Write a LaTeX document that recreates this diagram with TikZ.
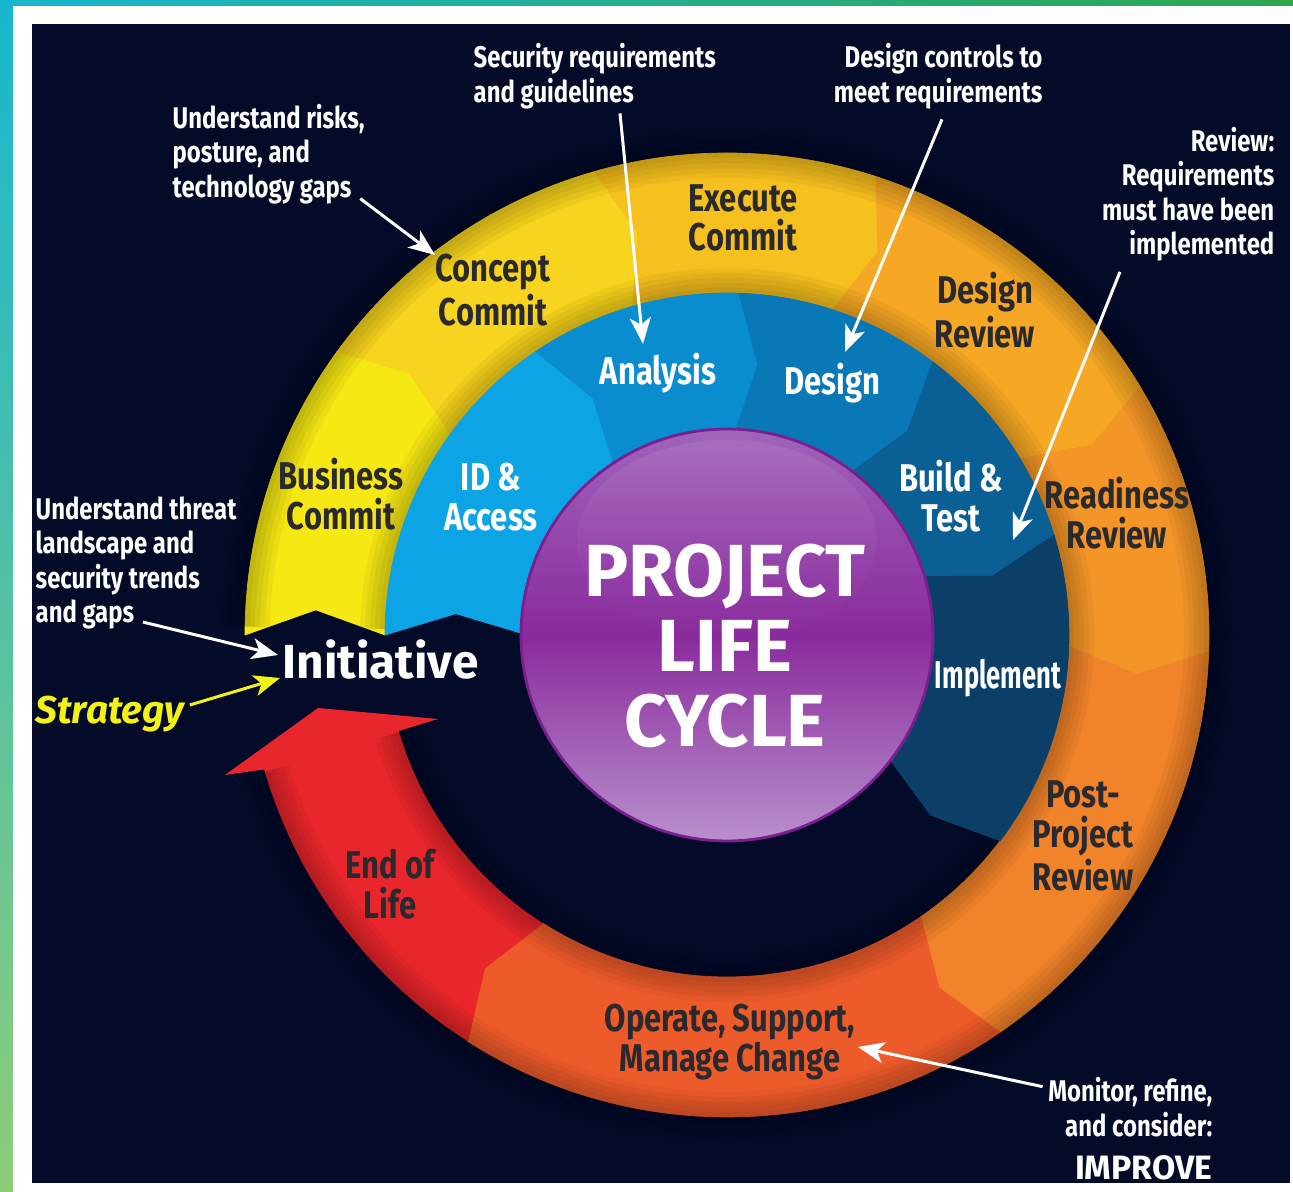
\documentclass[tikz,border=0pt]{standalone}
\usepackage{fontspec}
\setmainfont{Fira Sans}
\newfontfamily\narrowfont{Fira Sans}[FakeStretch=0.8]
\newfontfamily\slimfont{Fira Sans}[FakeStretch=0.66]
\usepackage{tikz}
\usetikzlibrary{arrows.meta,positioning}

% panel and frame
\definecolor{navy}{HTML}{030B29}
\definecolor{frameTeal}{HTML}{19B6CF}
\definecolor{frameGreen}{HTML}{8ECC7A}
\definecolor{barGreen}{HTML}{2EA64C}
% outer ring stages
\definecolor{bizYellow}{HTML}{F6E812}
\definecolor{conceptYellow}{HTML}{F7D41D}
\definecolor{execGold}{HTML}{F6C01F}
\definecolor{reviewOrange}{HTML}{F6A824}
\definecolor{readyOrange}{HTML}{F49627}
\definecolor{postOrange}{HTML}{F1832A}
\definecolor{operateOrange}{HTML}{EE5B2A}
\definecolor{endRed}{HTML}{E8262B}
% inner blue stages
\definecolor{blueA}{HTML}{0CA4E4}
\definecolor{blueB}{HTML}{0A8DCE}
\definecolor{blueC}{HTML}{0978B6}
\definecolor{blueD}{HTML}{0A5F94}
\definecolor{blueE}{HTML}{0B3F67}
% hub
\definecolor{hubTop}{HTML}{A064BA}
\definecolor{hubMid}{HTML}{8A2A9D}
\definecolor{hubLow}{HTML}{B890CC}
\definecolor{hubGloss}{HTML}{A871C0}
\definecolor{hubRim}{HTML}{7A1F8F}
\definecolor{stageText}{HTML}{2A2A2E}
\definecolor{strategyYellow}{HTML}{F3F216}

\begin{document}
\begin{tikzpicture}[x=0.01cm, y=-0.01cm,
  note/.style={text=white, inner sep=0pt, font=\narrowfont\bfseries\fontsize{8.5}{9.8}\selectfont},
  stage/.style={text=stageText, inner sep=0pt, align=center, font=\narrowfont\bfseries\fontsize{11}{11.3}\selectfont},
  substage/.style={stage, text=white},
  pointer/.style={draw=white, line width=0.85pt, -{Stealth[length=7.5pt, width=6pt, inset=2pt]}}]

% frame and dark panel
\fill[white] (0,0) rectangle (1293,1192);
\shade[top color=frameTeal, bottom color=frameGreen] (0,0) rectangle (13,1192);
\shade[left color=frameTeal, right color=barGreen] (0,0) rectangle (1293,6);
\fill[navy] (32,24) rectangle (1290,1183);

\begin{scope}[shift={(727,635)}, y=0.01cm]

% outer ring, one chevron per stage
\foreach \c/\a/\b in {bizYellow/180/144, conceptYellow/144/106, execGold/106/72,
    reviewOrange/72/31, readyOrange/31/-2, postOrange/-2/-55.5, operateOrange/-55.5/-122.5}
{
  \fill[\c, draw=\c, line width=0.2pt] (\a:482) arc[start angle=\a, end angle=\b, radius=482]
    -- (\b-3.5:412) -- (\b:342) arc[start angle=\b, end angle=\a, radius=342]
    -- (\a-3.5:412) -- cycle;
}

% end of life, turning back up into an arrow head
\fill[endRed] (-122.5:482) arc[start angle=-122.5, end angle=-163.8, radius=482]
  -- (-502,-140) -- (-409,-73) -- (-289,-84)
  -- (-163.7:342) arc[start angle=-163.7, end angle=-122.5, radius=342]
  -- (-126:412) -- cycle;

% soft shadow along both rims of the ring
\foreach \r in {482,342}
  \foreach \w in {1,2,3,4,5}
    \draw[black, opacity=.045, line width=\w mm] (179:\r) arc[start angle=179, end angle=-163.5, radius=\r];

% blue band
\foreach \c/\a/\b in {blueA/180/124, blueB/124/88, blueC/88/53, blueD/53/17, blueE/17/-37}
{
  \fill[\c, draw=\c, line width=0.2pt] (\a:342) arc[start angle=\a, end angle=\b, radius=342]
    -- (\b-4.5:272) -- (\b:200) arc[start angle=\b, end angle=\a, radius=200]
    -- (\a-4.5:272) -- cycle;
}

% hub
\shade[top color=hubTop, bottom color=hubLow, middle color=hubMid] (0,0) circle (206);
\shade[top color=hubGloss, bottom color=hubMid, opacity=.8] (0,95) ellipse [x radius=150, y radius=100];
\draw[hubRim, line width=0.8pt] (0,0) circle (206);

\end{scope}

% stage names on the ring
\node[stage] (business) at (341,494) {Business\\Commit};
\node[stage] (concept) at (493,290) {Concept\\Commit};
\node[stage] (execute) at (743,218) {Execute\\Commit};
\node[stage] (desReview) at (985,310) {Design\\Review};
\node[stage] (readiness) at (1117,513) {Readiness\\Review};
\node[stage] (postReview) at (1083,836) {Post-\\Project\\Review};
\node[stage] (operate) at (730,1042) {Operate, Support,\\Manage Change};
\node[stage] (endLife) at (390,884) {End of\\Life};

% stage names on the blue band
\node[substage] (idAccess) at (491,497) {ID \&\\Access};
\node[substage] (analysis) at (658,373) {Analysis};
\node[substage] (design) at (832,383) {Design};
\node[substage] (build) at (951,496) {Build \&\\Test};
\node[substage, font=\slimfont\bfseries\fontsize{11}{11.3}\selectfont] (implement) at (998,678) {Implement};

\node[text=white, align=center, inner sep=0pt, font=\bfseries\fontsize{21}{21.3}\selectfont] (hub) at (725,646) {PROJECT\\LIFE\\CYCLE};

% notes around the cycle
\node[note, align=left, anchor=west] (risks) at (172,154) {Understand risks,\\posture, and\\technology gaps};
\node[note, align=left, anchor=west] (secReq) at (473,76) {Security requirements\\and guidelines};
\node[note, align=right, anchor=east] (controls) at (1043,76) {Design controls to\\meet requirements};
\node[note, align=right, anchor=east] (reviewNote) at (1275,194) {Review:\\Requirements\\must have been\\implemented};
\node[note, align=left, anchor=west] (threat) at (35,563) {Understand threat\\landscape and\\security trends\\and gaps};
\node[note, align=right, anchor=east] (monitor) at (1213,1107) {Monitor, refine,\\and consider:};
\node[text=white, inner sep=0pt, font=\bfseries\fontsize{9.6}{10}\selectfont,
  below=5pt of monitor.south east, anchor=north east] (improve) {IMPROVE};

\node[text=white, inner sep=0pt, anchor=west, font=\bfseries\fontsize{13.6}{14}\selectfont] (initiative) at (282,660) {Initiative};
\node[text=strategyYellow, inner sep=0pt, anchor=west, font=\bfseries\itshape\fontsize{11}{12}\selectfont] (strategy) at (35,714) {Strategy};

% pointer tips
\coordinate (riskTip) at (435,255);
\coordinate (anaTip) at (643,344);
\coordinate (desTip) at (845,352);
\coordinate (buildTip) at (1013,540);
\coordinate (opTip) at (858,1047);

% pointers
\draw[pointer] ([shift={(-5,-6)}]risks.south east) -- (riskTip);
\draw[pointer] ([shift={(147,4)}]secReq.south west) -- (anaTip);
\draw[pointer] ([shift={(-101,10)}]controls.south east) -- (desTip);
\draw[pointer] ([shift={(-155,10)}]reviewNote.south east) -- (buildTip);
\draw[pointer] ([shift={(108,-8)}]threat.south west) -- ([shift={(-4,-5)}]initiative.west);
\draw[pointer, draw=strategyYellow] ([shift={(5,-9)}]strategy.east) -- ([shift={(-2,18)}]initiative.west);
\draw[pointer] ([shift={(-5,10)}]monitor.north west) -- (opTip);

\end{tikzpicture}
\end{document}
